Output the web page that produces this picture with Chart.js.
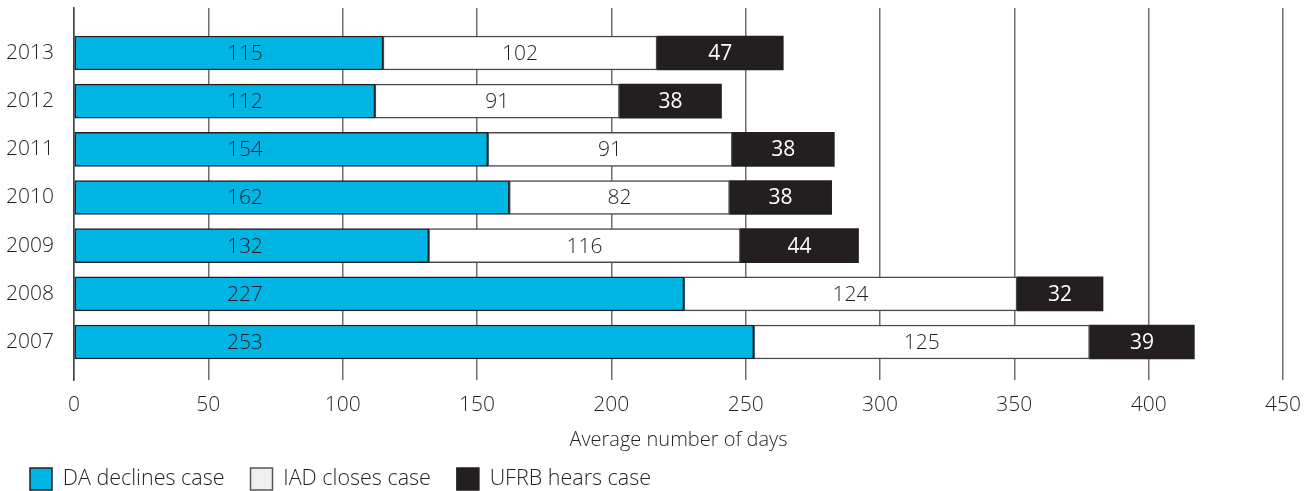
<!DOCTYPE html>
<html>
<head>
<meta charset="utf-8">
<script src="https://cdn.jsdelivr.net/npm/chart.js@4"></script>
<style>
  html, body { margin: 0; padding: 0; background: #fff; }
  #wrap { width: 1313px; height: 491px; }
</style>
</head>
<body>
<div id="wrap"><canvas id="chart"></canvas></div>
<script>
// years from top to bottom
const years = ['2013', '2012', '2011', '2010', '2009', '2008', '2007'];
const daDeclines = [115, 112, 154, 162, 132, 227, 253];
const iadCloses = [102, 91, 91, 82, 116, 124, 125];
const ufrbHears = [47, 38, 38, 38, 44, 32, 39];
const seriesNames = ['DA declines case', 'IAD closes case', 'UFRB hears case'];
const xTicks = [0, 50, 100, 150, 200, 250, 300, 350, 400, 450];

const BLUE = '#00B4E4';
const DARK = '#231F20';
const FONT = "'Open Sans', 'Noto Sans', sans-serif";

const toPoints = arr => arr.map((v, i) => ({ x: v, y: i }));

// numbers written inside the bars
const barLabels = {
  id: 'barLabels',
  afterDatasetsDraw(chart) {
    const ctx = chart.ctx;
    const xs = chart.scales.x;
    ctx.save();
    ctx.textAlign = 'center';
    ctx.textBaseline = 'middle';
    chart.data.datasets.forEach((ds, di) => {
      const meta = chart.getDatasetMeta(di);
      meta.data.forEach((bar, i) => {
        const p = bar.getProps(['x', 'y', 'base'], true);
        // blue labels sit in one column in the original
        const x = di === 0 ? xs.getPixelForValue(63.6) : (p.x + p.base) / 2;
        ctx.font = (di === 2 ? '400 ' : '300 ') + '21px ' + FONT;
        ctx.fillStyle = di === 2 ? '#ffffff' : DARK;
        ctx.fillText(String(ds.data[i].x), x, p.y + 1);
      });
    });
    ctx.restore();
  }
};

// keeps the wide gap between legend items without a tall legend box
const legendHeight = {
  id: 'legendHeight',
  beforeInit(chart) {
    const fit = chart.legend.fit;
    chart.legend.fit = function () {
      fit.bind(chart.legend)();
      this.height = 49;
    };
  }
};

new Chart(document.getElementById('chart'), {
  type: 'bar',
  data: {
    datasets: [
      {
        label: seriesNames[0],
        data: toPoints(daDeclines),
        backgroundColor: BLUE,
        borderColor: DARK,
        borderWidth: 1.5,
        borderSkipped: false
      },
      {
        label: seriesNames[1],
        data: toPoints(iadCloses),
        backgroundColor: '#ffffff',
        borderColor: '#4a4a4a',
        borderWidth: 1.5,
        borderSkipped: false
      },
      {
        label: seriesNames[2],
        data: toPoints(ufrbHears),
        backgroundColor: DARK,
        borderColor: DARK,
        borderWidth: 0
      }
    ]
  },
  options: {
    indexAxis: 'y',
    responsive: true,
    maintainAspectRatio: false,
    animation: false,
    barThickness: 34,
    layout: { padding: { top: 8, right: 29, bottom: 0, left: 4 } },
    scales: {
      x: {
        type: 'linear',
        stacked: true,
        min: 0,
        max: 450,
        afterBuildTicks: s => { s.ticks = xTicks.map(v => ({ value: v })); },
        ticks: { color: DARK, font: { family: FONT, size: 21, weight: '300' }, padding: 12 },
        grid: { color: '#6e6e6e', lineWidth: 1.5, drawTicks: false },
        border: { display: false },
        title: {
          display: true,
          text: 'Average number of days',
          color: DARK,
          font: { family: FONT, size: 20, weight: '300' },
          padding: { top: 0, bottom: -10 }
        },
        afterFit: s => { s.height = 62; }
      },
      y: {
        type: 'linear',
        stacked: true,
        reverse: true,
        offset: false,
        min: -0.934,
        max: 6.789,
        afterBuildTicks: s => { s.ticks = years.map((y, i) => ({ value: i })); },
        ticks: {
          color: DARK,
          font: { family: FONT, size: 21, weight: '300' },
          padding: 20,
          autoSkip: false,
          callback: v => years[v]
        },
        grid: { display: false, drawTicks: false, offset: false },
        border: { display: true, color: '#444', width: 1.5 },
        afterFit: s => { s.width = 70; s.paddingTop = 0; s.paddingBottom = 0; }
      }
    },
    plugins: {
      tooltip: { enabled: false },
      legend: {
        position: 'bottom',
        align: 'start',
        labels: {
          boxWidth: 22,
          boxHeight: 22,
          padding: 26,
          color: DARK,
          font: { family: FONT, size: 21.5, weight: '300' },
          generateLabels: chart => {
            const fills = [BLUE, '#efefef', DARK];
            const strokes = [DARK, '#555', DARK];
            return seriesNames.map((n, i) => ({
              text: n,
              fillStyle: fills[i],
              strokeStyle: strokes[i],
              lineWidth: 1.5,
              fontColor: DARK,
              datasetIndex: i
            }));
          }
        }
      }
    }
  },
  plugins: [barLabels, legendHeight]
});
</script>
</body>
</html>
